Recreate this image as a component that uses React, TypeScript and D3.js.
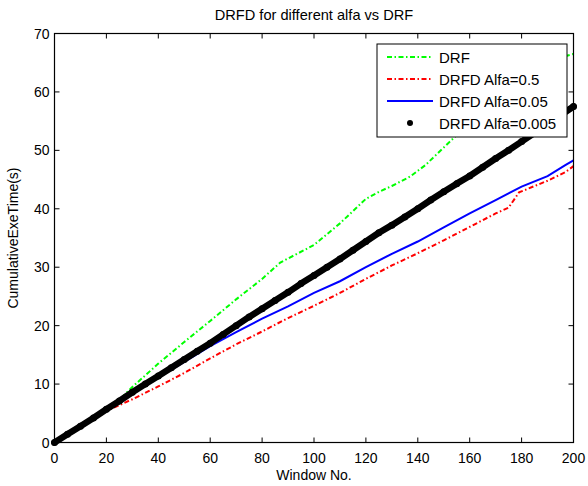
import React from 'react';
import * as d3 from 'd3';

// window numbers where values were read
const drfX = [0, 10, 20, 25, 30, 40, 50, 60, 70, 80, 87, 100, 110, 120, 125, 130, 137, 143, 150, 155, 160, 170, 180, 190, 200];
const drfY = [0, 2.9, 5.8, 7.3, 9.5, 13.5, 17.2, 20.8, 24.5, 28.0, 30.8, 33.8, 37.5, 41.7, 42.9, 43.9, 45.5, 47.5, 50.5, 52.6, 54.5, 58.0, 61.5, 65.3, 66.5];

const alfa05X = [0, 10, 20, 30, 40, 50, 60, 70, 80, 90, 100, 110, 120, 130, 140, 150, 160, 170, 175, 179, 190, 197, 200];
const alfa05Y = [0, 2.8, 5.4, 7.4, 9.6, 11.9, 14.4, 16.8, 19.0, 21.3, 23.4, 25.6, 28.0, 30.3, 32.4, 34.6, 36.9, 39.2, 40.2, 42.8, 44.8, 46.3, 47.3];

const alfa005X = [0, 10, 20, 30, 40, 47, 50, 60, 70, 80, 90, 100, 110, 120, 130, 140, 150, 160, 170, 180, 190, 197, 200];
const alfa005Y = [0, 2.8, 5.7, 8.5, 11.3, 13.0, 13.8, 16.5, 18.9, 21.2, 23.3, 25.6, 27.6, 30.0, 32.3, 34.4, 36.8, 39.2, 41.5, 43.8, 45.6, 47.5, 48.3];

const alfa0005X = [0, 5, 10, 15, 20, 25, 30, 35, 40, 45, 50, 55, 60, 65, 70, 75, 80, 85, 90, 95, 100, 105, 110, 115, 120, 125, 130, 135, 140, 145, 150, 155, 160, 165, 170, 175, 180, 185, 190, 195, 200];
const alfa0005Y = [0, 1.4, 2.8, 4.2, 5.7, 7.1, 8.6, 10.0, 11.4, 12.8, 14.2, 15.6, 17.0, 18.5, 20.0, 21.5, 22.9, 24.3, 25.7, 27.2, 28.6, 30.0, 31.4, 32.9, 34.4, 35.9, 37.2, 38.6, 40.0, 41.5, 42.9, 44.3, 45.6, 47.1, 48.6, 50.0, 51.5, 53.0, 54.5, 56.0, 57.5];

const xTicks = [0, 20, 40, 60, 80, 100, 120, 140, 160, 180, 200];
const yTicks = [0, 10, 20, 30, 40, 50, 60, 70];

const legendLabels = ['DRF', 'DRFD Alfa=0.5', 'DRFD Alfa=0.05', 'DRFD Alfa=0.005'];

const zip = (xs: number[], ys: number[]) => xs.map((x, i) => ({ x, y: ys[i] }));

const App = () => {
  const width = 588;
  const height = 486;
  const margin = { top: 33.5, right: 14.5, bottom: 43.5, left: 54.5 };
  const chartWidth = width - margin.left - margin.right;
  const chartHeight = height - margin.top - margin.bottom;
  const font = '"Liberation Sans", Arial, Helvetica, sans-serif';

  const xScale = d3.scaleLinear().domain([0, 200]).range([0, chartWidth]);
  const yScale = d3.scaleLinear().domain([0, 70]).range([chartHeight, 0]);

  const linePlot = d3.line<{ x: number; y: number }>()
    .x(d => xScale(d.x))
    .y(d => yScale(d.y));

  const drf = zip(drfX, drfY);
  const a05 = zip(alfa05X, alfa05Y);
  const a005 = zip(alfa005X, alfa005Y);
  const a0005 = zip(alfa0005X, alfa0005Y);

  const dashDot = '5,2.5,1.5,2.5';
  const tickLen = 5;

  // legend box
  const lg = { x: 377, y: 44, w: 190, h: 93 };
  const rowY = [57, 79, 101, 123];
  const sampleX1 = 387;
  const sampleX2 = 433;

  return (
    <svg width={width} height={height} style={{ position: 'absolute', left: 0, top: 0, background: 'white' }} fontFamily={font}>
      <rect x={0} y={0} width={width} height={height} fill='white' />
      <text x={margin.left + chartWidth / 2} y={20} textAnchor='middle' fontSize={14.6}>DRFD for different alfa vs DRF</text>
      <g transform={`translate(${margin.left}, ${margin.top})`}>
        <path d={linePlot(drf) || ''} fill='none' stroke='#00ff00' strokeWidth={2} strokeDasharray={dashDot} />
        <path d={linePlot(a05) || ''} fill='none' stroke='#ff0000' strokeWidth={2} strokeDasharray={dashDot} />
        <path d={linePlot(a005) || ''} fill='none' stroke='#0000ff' strokeWidth={2} />
        <path d={linePlot(a0005) || ''} fill='none' stroke='black' strokeWidth={6.5} strokeLinecap='round' strokeLinejoin='round' />
        {a0005.map((d, i) => (
          <circle key={i} cx={xScale(d.x)} cy={yScale(d.y)} r={3.5} fill='black' />
        ))}

        {/* axes box with inward ticks */}
        <rect x={0} y={0} width={chartWidth} height={chartHeight} fill='none' stroke='black' strokeWidth={1.2} />
        {xTicks.map(t => (
          <g key={`x${t}`}>
            <line x1={xScale(t)} x2={xScale(t)} y1={chartHeight} y2={chartHeight - tickLen} stroke='black' />
            <line x1={xScale(t)} x2={xScale(t)} y1={0} y2={tickLen} stroke='black' />
            <text x={xScale(t)} y={chartHeight + 20} textAnchor='middle' fontSize={14}>{t}</text>
          </g>
        ))}
        {yTicks.map(t => (
          <g key={`y${t}`}>
            <line x1={0} x2={tickLen} y1={yScale(t)} y2={yScale(t)} stroke='black' />
            <line x1={chartWidth} x2={chartWidth - tickLen} y1={yScale(t)} y2={yScale(t)} stroke='black' />
            <text x={-5} y={yScale(t) + 5} textAnchor='end' fontSize={14}>{t}</text>
          </g>
        ))}
      </g>
      <text x={margin.left + chartWidth / 2} y={480} textAnchor='middle' fontSize={14}>Window No.</text>
      <text transform={`translate(18, ${margin.top + chartHeight / 2}) rotate(-90)`} textAnchor='middle' fontSize={14}>CumulativeExeTime(s)</text>

      {/* legend */}
      <rect x={lg.x} y={lg.y} width={lg.w} height={lg.h} fill='white' stroke='black' strokeWidth={1} />
      <line x1={sampleX1} x2={sampleX2} y1={rowY[0]} y2={rowY[0]} stroke='#00ff00' strokeWidth={2} strokeDasharray={dashDot} />
      <line x1={sampleX1} x2={sampleX2} y1={rowY[1]} y2={rowY[1]} stroke='#ff0000' strokeWidth={2} strokeDasharray={dashDot} />
      <line x1={sampleX1} x2={sampleX2} y1={rowY[2]} y2={rowY[2]} stroke='#0000ff' strokeWidth={2} />
      <circle cx={(sampleX1 + sampleX2) / 2} cy={rowY[3]} r={3} fill='black' />
      {legendLabels.map((l, i) => (
        <text key={l} x={439} y={rowY[i] + 5.5} fontSize={15}>{l}</text>
      ))}
    </svg>
  );
};

export default App;
